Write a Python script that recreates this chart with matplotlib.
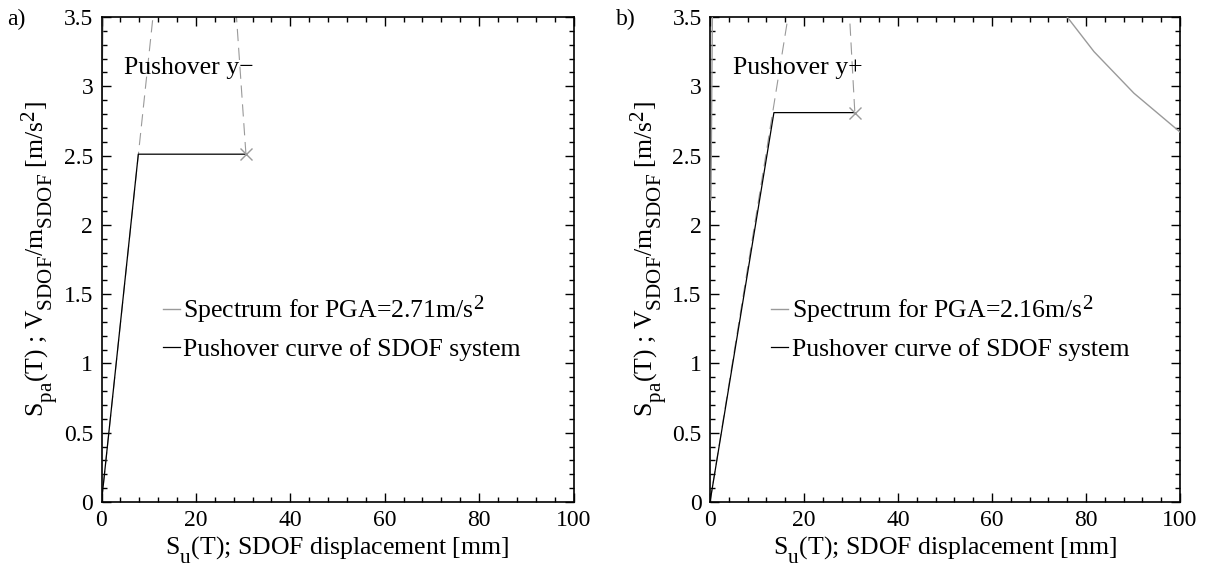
import numpy as np
import matplotlib
matplotlib.use("Agg")
import matplotlib.pyplot as plt
import matplotlib._mathtext as mt
from matplotlib.ticker import MultipleLocator

# matlab style sub/superscripts: bigger and lower than mathtext default
mt.SHRINK_FACTOR = 0.82
mt.FontConstantsBase.subdrop = 0.75
mt.FontConstantsBase.sub1 = 0.75

plt.rcParams['font.family'] = ['Liberation Serif', 'DejaVu Serif']
plt.rcParams['mathtext.fontset'] = 'custom'
plt.rcParams['mathtext.rm'] = 'Liberation Serif'
plt.rcParams['mathtext.it'] = 'Liberation Serif:italic'

# panel a) pushover y-
push_x_a = [0, 7.8, 30.6]
push_y_a = [0, 2.51, 2.51]
dash1_x_a = [0, 10.9]
dash1_y_a = [0, 3.5]
dash2_x_a = [30.6, 28.6]
dash2_y_a = [2.51, 3.5]
spec_x_a = [0, 0.3]
spec_y_a = [2.71, 3.5]
pga_a = "2.71"

# panel b) pushover y+
push_x_b = [0, 13.6, 30.8]
push_y_b = [0, 2.81, 2.81]
dash1_x_b = [0, 16.6]
dash1_y_b = [0, 3.5]
dash2_x_b = [30.8, 29.7]
dash2_y_b = [2.82, 3.5]
spec_x_b = [0.2, 0.5, np.nan, 76, 81.7, 90.2, 100]
spec_y_b = [2.18, 3.5, np.nan, 3.5, 3.25, 2.95, 2.67]
pga_b = "2.16"

gray = '#9a9a9a'
fs_tick = 17
fs = 18.5

fig = plt.figure(figsize=(12.07, 5.84), dpi=100)
ax_a = fig.add_axes([101.5/1207, 82/584, 472/1207, 485/584])
ax_b = fig.add_axes([710/1207, 82/584, 470/1207, 485/584])

panels = [
    (ax_a, push_x_a, push_y_a, dash1_x_a, dash1_y_a, dash2_x_a, dash2_y_a, spec_x_a, spec_y_a, pga_a, 'Pushover y\u2212', 'a)', 2),
    (ax_b, push_x_b, push_y_b, dash1_x_b, dash1_y_b, dash2_x_b, dash2_y_b, spec_x_b, spec_y_b, pga_b, 'Pushover y+', 'b)', 3),
]

for ax, px, py, d1x, d1y, d2x, d2y, sx, sy, pga, title, tag, zs in panels:
    ax.plot(d1x, d1y, color=gray, lw=0.8, dashes=(11, 6))
    ax.plot(d2x, d2y, color=gray, lw=0.8, dashes=(11, 6))
    ax.plot(sx, sy, color=gray, lw=1.0, zorder=zs, label=f'Spectrum for PGA={pga}m/s$^2$')
    ax.plot(px, py, color='black', lw=0.9, label='Pushover curve of SDOF system')
    ax.plot(px[-1], py[-1], marker='x', color=gray, ms=8, mew=1.0)

    ax.set_xlim(0, 100)
    ax.set_ylim(0, 3.5)
    ax.xaxis.set_major_locator(MultipleLocator(20))
    ax.xaxis.set_minor_locator(MultipleLocator(4))
    ax.yaxis.set_minor_locator(MultipleLocator(0.1))
    ax.set_yticks(np.arange(0, 3.51, 0.5))
    ax.set_yticklabels(['0', '0.5', '1', '1.5', '2', '2.5', '3', '3.5'])
    ax.tick_params(which='both', direction='in', top=True, right=True, labelsize=fs_tick, width=1.0)
    ax.tick_params(which='major', length=6.5, pad=6)
    ax.tick_params(which='minor', length=3.5)
    for s in ax.spines.values():
        s.set_linewidth(1.2)

    ax.set_xlabel('S$_{\\mathrm{u}}$(T); SDOF displacement [mm]', fontsize=fs, labelpad=2)
    ax.set_ylabel('S$_{\\mathrm{pa}}$(T) ; V$_{\\mathrm{SDOF}}$/m$_{\\mathrm{SDOF}}$ [m/s$^2$]',
                  fontsize=fs, labelpad=2)
    ax.text(4.8, 3.13, title, fontsize=fs, va='center', ha='left')
    ax.text(-0.2, 0.995, tag, transform=ax.transAxes, fontsize=fs_tick, va='center', ha='left')

    ax.legend(loc='upper left', bbox_to_anchor=(0.13, 0.43), frameon=False, fontsize=fs,
              handlelength=0.65, handletextpad=0.15, borderpad=0, borderaxespad=0,
              labelspacing=0.5)

fig.savefig('out.png', dpi=100)
